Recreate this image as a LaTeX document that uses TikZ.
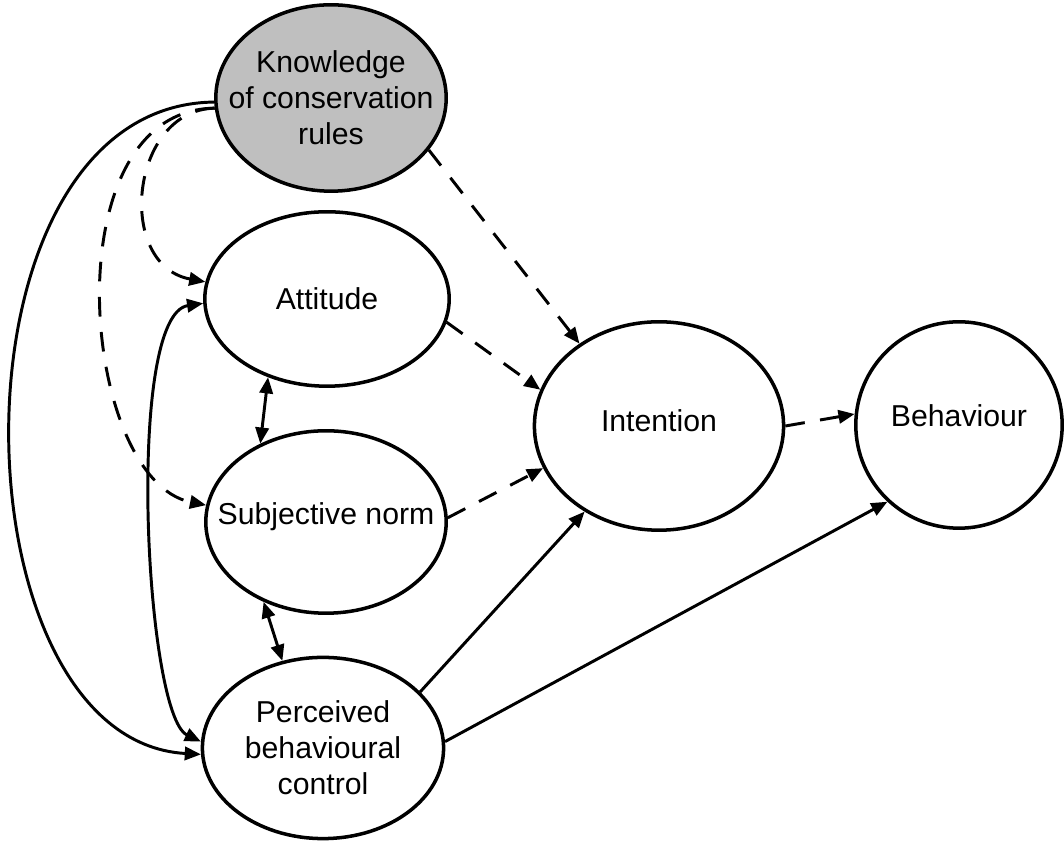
\documentclass[tikz,border=0pt]{standalone}
\usepackage{fontspec}
\setmainfont{Liberation Sans}
\usetikzlibrary{shapes.geometric,arrows.meta}
\definecolor{know-gray}{gray}{0.75}

\begin{document}
\begin{tikzpicture}[
	construct/.style={ellipse,draw=black,line width=2.5pt,inner sep=0pt,align=center,font=\fontsize{21.5}{25.5}\selectfont},
	effect/.style={line width=2.1pt,-{Triangle[length=11.5pt,width=9.5pt]}},
	deffect/.style={effect,dash pattern=on 14pt off 11pt},
	corr/.style={line width=2.1pt,{Triangle[length=11.5pt,width=9.5pt]}-{Triangle[length=11.5pt,width=9.5pt]}}]
	\useasboundingbox (0, 0) rectangle (26.6, 21.075);
	
	% constructs
	\node[construct,fill=know-gray,minimum width=5.76cm,minimum height=4.66cm,inner xsep=-1cm] (know) at (8.275, 18.625) {Knowledge\\of conservation\\rules};
	\node[construct,minimum width=6.11cm,minimum height=4.36cm] (att) at (8.175, 13.6) {Attitude};
	\node[construct,minimum width=6.01cm,minimum height=4.56cm,inner xsep=-1cm,text height=3.6pt,text depth=0pt] (norm) at (8.15, 8.025) {Subjective norm};
	\node[construct,minimum width=6.03cm,minimum height=4.53cm] (pbc) at (8.075, 2.375) {Perceived\\behavioural\\control};
	\node[construct,minimum width=6.23cm,minimum height=5.21cm,text height=8.2pt,text depth=0pt] (int) at (16.475, 10.425) {Intention};
	\node[construct,minimum width=5.16cm,minimum height=5.16cm,text height=2pt,text depth=0pt] (beh) at (23.975, 10.45) {Behaviour};
	
	% dashed paths
	\draw[deffect] (know.332) -- (int.134);
	\draw[deffect] (att.349) -- (int.163);
	\draw[deffect] (norm.2) -- (int.200);
	\draw[deffect] (int.0) -- (beh.174);
	\draw[deffect] (know.185) .. controls (3.25, 18.325) and (2.875, 14.45) .. (att.172);
	\draw[deffect] (know.185) .. controls (1.25, 18.325) and (2, 9.075) .. (norm.172);
	
	% solid paths
	\draw[effect] (pbc.30) -- (int.229);
	\draw[effect] (pbc.3) -- (beh.227);
	\draw[effect] (know.182) .. controls (-1.5, 18.45) and (-1.25, 2.575) .. (pbc.183);
	
	% correlations
	\draw[corr] (att.233) -- (norm.130);
	\draw[corr] (norm.232) -- (pbc.115);
	\draw[corr] (att.182) .. controls (3.125, 13.2) and (3.625, 3.2) .. (pbc.177);
\end{tikzpicture}
\end{document}
